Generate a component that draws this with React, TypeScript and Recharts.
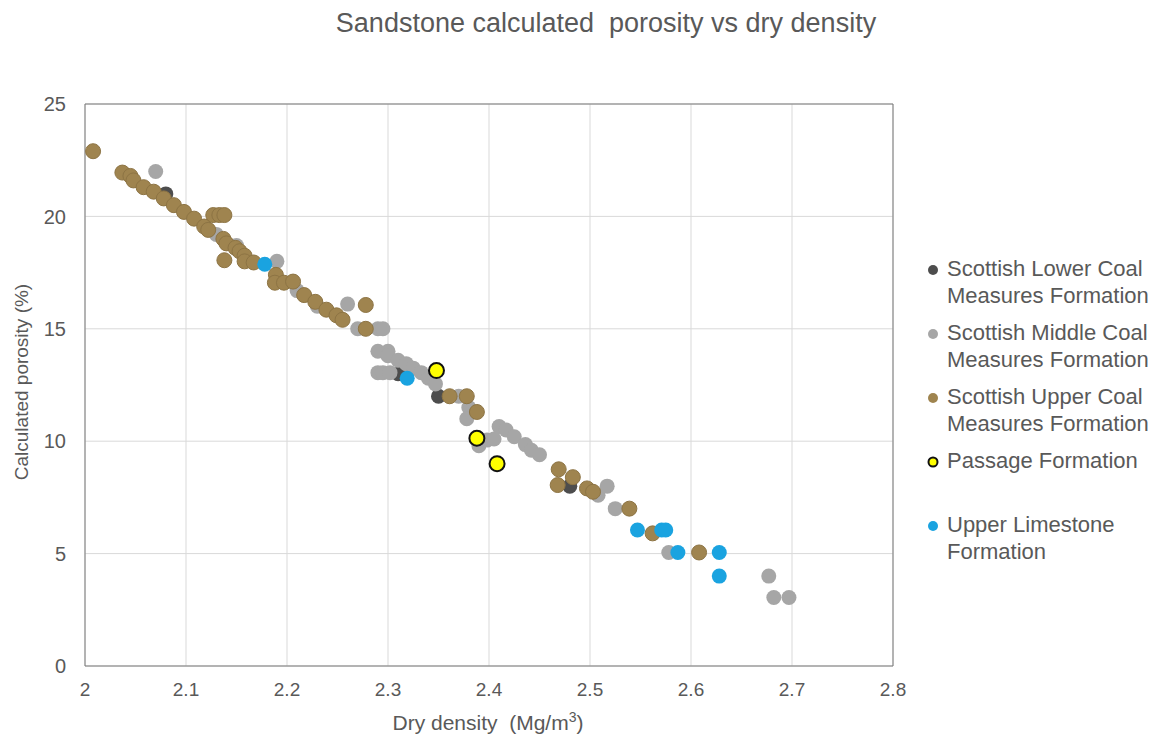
import React from "react";
import { CartesianGrid, ReferenceLine, Scatter, ScatterChart, XAxis, YAxis } from "recharts";

// [dry density Mg/m3, calculated porosity %]
const lowerCoal: [number, number][] = [
  [2.08, 21.0], [2.31, 13.0], [2.35, 12.0], [2.48, 8.0],
];

const middleCoal: [number, number][] = [
  [2.07, 22.0], [2.13, 19.2], [2.15, 18.7], [2.19, 18.0], [2.21, 16.7], [2.23, 16.0],
  [2.26, 16.1], [2.27, 15.0], [2.29, 15.0], [2.295, 15.0], [2.29, 14.0], [2.3, 14.0],
  [2.29, 13.05], [2.295, 13.05], [2.302, 13.05], [2.3, 13.8], [2.31, 13.6], [2.318, 13.45],
  [2.325, 13.25], [2.333, 13.05], [2.34, 12.8], [2.347, 12.55], [2.37, 12.0], [2.38, 11.5],
  [2.378, 11.0], [2.39, 9.8], [2.398, 10.05], [2.405, 10.1], [2.41, 10.65], [2.417, 10.5],
  [2.425, 10.2], [2.436, 9.85], [2.442, 9.6], [2.45, 9.4], [2.508, 7.6], [2.517, 8.0],
  [2.525, 7.0], [2.578, 5.05], [2.677, 4.0], [2.682, 3.05], [2.697, 3.05],
];

const upperCoal: [number, number][] = [
  [2.008, 22.9], [2.037, 21.95], [2.045, 21.8], [2.048, 21.6], [2.058, 21.3], [2.068, 21.1],
  [2.078, 20.8], [2.088, 20.5], [2.098, 20.2], [2.108, 19.9], [2.118, 19.55], [2.122, 19.4],
  [2.127, 20.06], [2.133, 20.06], [2.138, 20.06], [2.137, 19.0], [2.138, 18.05], [2.14, 18.8],
  [2.149, 18.6], [2.153, 18.45], [2.158, 18.25], [2.158, 18.0], [2.167, 17.95], [2.189, 17.4],
  [2.188, 17.05], [2.197, 17.05], [2.206, 17.1], [2.217, 16.5], [2.228, 16.2], [2.239, 15.85],
  [2.249, 15.6], [2.255, 15.4], [2.278, 16.06], [2.278, 15.0], [2.361, 12.0], [2.378, 12.0],
  [2.388, 11.3], [2.469, 8.75], [2.483, 8.4], [2.468, 8.05], [2.497, 7.9], [2.503, 7.75],
  [2.539, 7.0], [2.562, 5.9], [2.608, 5.05],
];

const passage: [number, number][] = [
  [2.348, 13.14], [2.388, 10.13], [2.408, 9.0],
];

const upperLimestone: [number, number][] = [
  [2.178, 17.87], [2.319, 12.8], [2.547, 6.05], [2.571, 6.05], [2.575, 6.05],
  [2.587, 5.05], [2.628, 5.05], [2.628, 4.0],
];

const xTicks = [2, 2.1, 2.2, 2.3, 2.4, 2.5, 2.6, 2.7, 2.8];
const yTicks = [0, 5, 10, 15, 20, 25];

const FONT = "'Liberation Sans', Arial, sans-serif";
const TEXT = "#595959";

const series = [
  { name: ["Scottish Lower Coal", "Measures Formation"], data: lowerCoal, fill: "#4d4d4d", stroke: "#4d4d4d", sw: 0 },
  { name: ["Scottish Middle Coal", "Measures Formation"], data: middleCoal, fill: "#a6a6a6", stroke: "#a6a6a6", sw: 0 },
  { name: ["Scottish Upper Coal", "Measures Formation"], data: upperCoal, fill: "#9f844f", stroke: "#8d7444", sw: 1 },
  { name: ["Passage Formation"], data: passage, fill: "#ffff00", stroke: "#111111", sw: 2 },
  { name: ["Upper Limestone", "Formation"], data: upperLimestone, fill: "#1aa3e0", stroke: "#1aa3e0", sw: 0 },
];

const toPoints = (rows: [number, number][]) => rows.map(([x, y]) => ({ x, y }));

export default function App() {
  return (
    <div style={{ position: "absolute", left: 0, top: 0, width: 1162, height: 739, background: "#fff", fontFamily: FONT }}>
      <div
        style={{
          position: "absolute", left: 0, top: 8, width: 1212, textAlign: "center",
          fontSize: 27, color: TEXT, whiteSpace: "pre",
        }}
      >
        {"Sandstone calculated  porosity vs dry density"}
      </div>

      <ScatterChart width={1162} height={739} margin={{ top: 104, right: 269, bottom: 33, left: 25 }}>
        <CartesianGrid stroke="#d9d9d9" />
        <XAxis
          type="number"
          dataKey="x"
          domain={[2, 2.8]}
          ticks={xTicks}
          height={40}
          tickLine={false}
          tickMargin={11}
          axisLine={{ stroke: "#7a7a7a" }}
          tick={{ fill: TEXT, fontSize: 19, fontFamily: FONT }}
          tickFormatter={(v: number) => String(v)}
        />
        <YAxis
          type="number"
          dataKey="y"
          domain={[0, 25]}
          ticks={yTicks}
          width={60}
          tickLine={false}
          tickMargin={13}
          axisLine={{ stroke: "#7a7a7a" }}
          tick={{ fill: TEXT, fontSize: 20, fontFamily: FONT }}
        />
        <ReferenceLine y={25} stroke="#7a7a7a" />
        <ReferenceLine x={2.8} stroke="#7a7a7a" />
        {series.map((s) => (
          <Scatter
            key={s.name.join(" ")}
            data={toPoints(s.data)}
            isAnimationActive={false}
            shape={(p: any) => (
              <circle cx={p.cx} cy={p.cy} r={7.5} fill={s.fill} stroke={s.stroke} strokeWidth={s.sw} />
            )}
          />
        ))}
      </ScatterChart>

      <div
        style={{
          position: "absolute", left: 22, top: 382, transform: "translate(-50%, -50%) rotate(-90deg)",
          fontSize: 19, color: TEXT, whiteSpace: "nowrap",
        }}
      >
        Calculated porosity (%)
      </div>

      <div
        style={{
          position: "absolute", left: 488, top: 722, transform: "translate(-50%, -50%)",
          fontSize: 21, color: TEXT, whiteSpace: "pre",
        }}
      >
        {"Dry density  (Mg/m"}
        <sup style={{ fontSize: 14 }}>3</sup>
        {")"}
      </div>

      <div style={{ position: "absolute", left: 924, top: 256, color: TEXT, fontSize: 22 }}>
        {series.map((s) => (
          <div key={s.name.join(" ")} style={{ height: 64, position: "relative", paddingLeft: 23, lineHeight: "26.5px" }}>
            <svg width={12} height={12} style={{ position: "absolute", left: 3, top: 8 }}>
              <circle cx={6} cy={6} r={s.sw === 2 ? 4.5 : 5} fill={s.fill} stroke={s.stroke} strokeWidth={s.sw === 2 ? 2 : 0} />
            </svg>
            {s.name.map((line) => (
              <div key={line} style={{ whiteSpace: "nowrap" }}>{line}</div>
            ))}
          </div>
        ))}
      </div>
    </div>
  );
}
